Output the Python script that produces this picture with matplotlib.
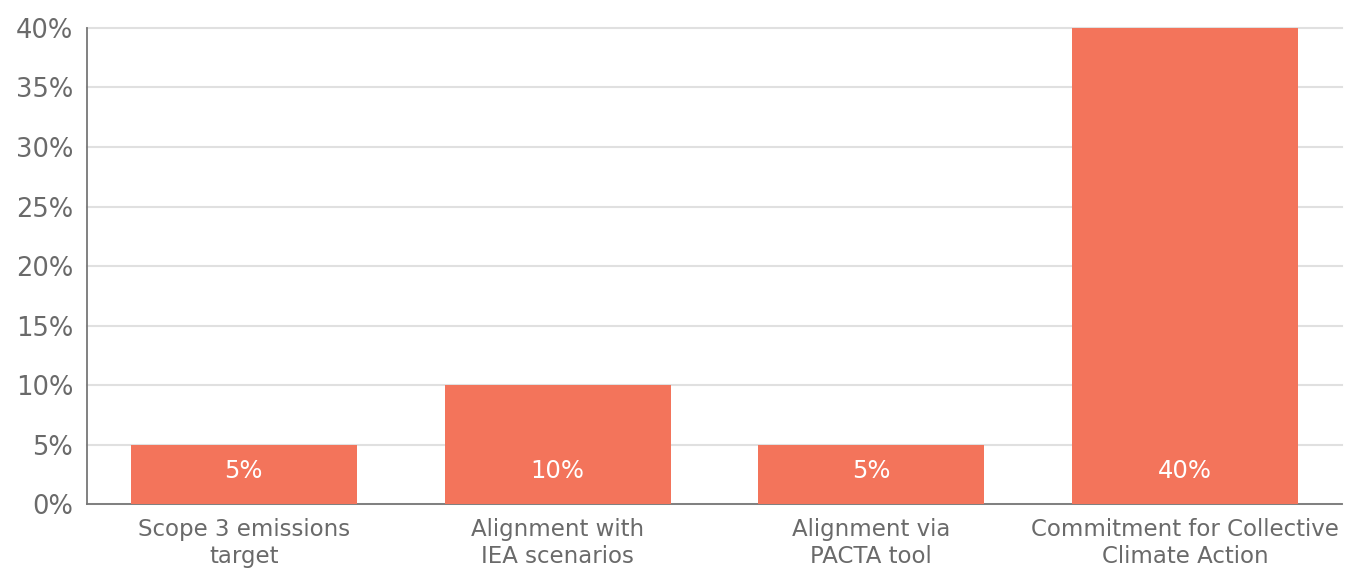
import matplotlib
matplotlib.use("Agg")
import matplotlib.pyplot as plt

categories = ["Scope 3 emissions\ntarget", "Alignment with\nIEA scenarios",
              "Alignment via\nPACTA tool", "Commitment for Collective\nClimate Action"]
values = [5, 10, 5, 40]
yticks = [0, 5, 10, 15, 20, 25, 30, 35, 40]
ytick_labels = [f"{v}%" for v in yticks]
bar_labels = [f"{v}%" for v in values]

plt.rcParams['font.family'] = ['DejaVu Sans']
fig = plt.figure(figsize=(13.46, 5.69), dpi=100)
ax = fig.add_axes([0.0646, 0.1142, 0.9324, 0.8366])

x = range(len(categories))
ax.bar(x, values, width=0.72, color="#F3745B", zorder=3)
ax.set_xlim(-0.5, len(categories) - 0.5)
ax.set_ylim(0, 40)
ax.set_yticks(yticks)
ax.set_yticklabels(ytick_labels, fontsize=18.5, color="#6a6a6a")
ax.set_xticks(list(x))
ax.set_xticklabels(categories, fontsize=16.5, color="#6a6a6a", linespacing=1.24)
ax.tick_params(axis='y', length=0, pad=10)
ax.tick_params(axis='x', length=0, pad=10)
ax.grid(axis='y', color="#e0e0e0", linewidth=1.5, zorder=0)
for gl in ax.get_ygridlines():
    gl.set_clip_on(False)
for s in ['top', 'right']:
    ax.spines[s].set_visible(False)
for s in ['left', 'bottom']:
    ax.spines[s].set_color("#777777")
    ax.spines[s].set_linewidth(1.3)

for xi, lab in zip(x, bar_labels):
    ax.annotate(lab, (xi, 0), xytext=(0, 24), textcoords="offset points",
                ha="center", va="center", color="white", fontsize=17.5, zorder=4)

fig.savefig("out.png", dpi=100)
